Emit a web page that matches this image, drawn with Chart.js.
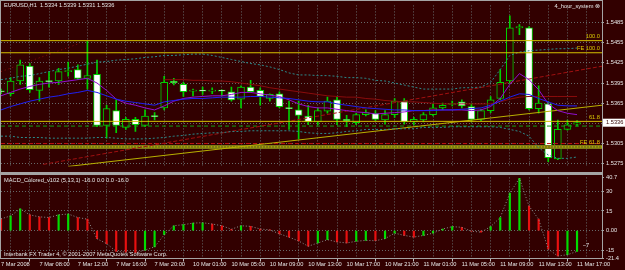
<!DOCTYPE html>
<html>
<head>
<meta charset="utf-8">
<script src="https://cdn.jsdelivr.net/npm/chart.js@4.4.1/dist/chart.umd.min.js"></script>
<style>
  body { margin: 0; background: #320000; width: 625px; height: 270px; overflow: hidden; position: relative; font-family: "Liberation Sans", Arial, sans-serif; }
  canvas { position: absolute; left: 0; }
  #main { top: 0; }
  #macd { top: 172px; }
  .t { position: absolute; color: #e6e6e6; font-size: 5.7px; white-space: pre; line-height: 1; z-index: 5; }
  .ln { position: absolute; background: #a4a4a4; z-index: 4; }
</style>
</head>
<body>
<canvas id="main" width="625" height="172"></canvas>
<canvas id="macd" width="625" height="98"></canvas>

<div class="ln" style="left:0;top:0;width:603px;height:1px"></div>
<div class="ln" style="left:0;top:0;width:1px;height:259px"></div>
<div class="ln" style="left:602px;top:0;width:1px;height:259px"></div>
<div class="ln" style="left:0;top:172px;width:603px;height:3px"></div>
<div class="ln" style="left:0;top:258px;width:603px;height:1px"></div>

<div class="t" style="left:4px;top:3px">EURUSD,H1  1.5334 1.5339 1.5331 1.5336</div>
<div class="t" style="right:25px;top:4px">4_hour_system ⊗</div>
<div class="t" style="left:4px;top:178px">MACD_Colored_v102 (5,13,1) -16.0 0.0 0.0 -16.0</div>
<div class="t" style="left:4px;top:252px">Interbank FX Trader 4, © 2001-2007 MetaQuotes Software Corp.</div>

<script>
// EURUSD H1, 7 Mar 2008 04:00 .. 11 Mar 2008 17:00
const timeLabels = ["7 Mar 2008", "7 Mar 08:00", "7 Mar 12:00", "7 Mar 16:00", "7 Mar 20:00",
  "10 Mar 01:00", "10 Mar 05:00", "10 Mar 09:00", "10 Mar 13:00", "10 Mar 17:00", "10 Mar 21:00",
  "11 Mar 01:00", "11 Mar 05:00", "11 Mar 09:00", "11 Mar 13:00", "11 Mar 17:00"];

const opens = [1.5383, 1.5379, 1.5398, 1.5420, 1.5384, 1.5398, 1.5398, 1.5412, 1.5415, 1.5402,
  1.5408, 1.5332, 1.5354, 1.5329, 1.5341, 1.5332, 1.5346, 1.5358, 1.5398, 1.5393,
  1.5383, 1.5384, 1.5383, 1.5384, 1.5382, 1.5371, 1.5389, 1.5384, 1.5372, 1.5379,
  1.5358, 1.5355, 1.5346, 1.5337, 1.5353, 1.5370, 1.5341, 1.5336, 1.5348, 1.5350,
  1.5340, 1.5348, 1.5368, 1.5337, 1.5340, 1.5348, 1.5358, 1.5363, 1.5367, 1.5360,
  1.5341, 1.5354, 1.5372, 1.5398, 1.5477, 1.5477, 1.5357, 1.5364, 1.5282, 1.5326, 1.5334];
const highs = [1.5386, 1.5403, 1.5429, 1.5424, 1.5403, 1.5412, 1.5417, 1.5426, 1.5422, 1.5457,
  1.5429, 1.5362, 1.5370, 1.5344, 1.5344, 1.5355, 1.5351, 1.5405, 1.5402, 1.5396,
  1.5386, 1.5389, 1.5388, 1.5385, 1.5389, 1.5391, 1.5399, 1.5388, 1.5379, 1.5382,
  1.5368, 1.5368, 1.5362, 1.5358, 1.5374, 1.5375, 1.5347, 1.5350, 1.5355, 1.5354,
  1.5354, 1.5372, 1.5372, 1.5344, 1.5351, 1.5364, 1.5365, 1.5368, 1.5370, 1.5364,
  1.5356, 1.5375, 1.5415, 1.5495, 1.5482, 1.5479, 1.5391, 1.5367, 1.5340, 1.5340, 1.5339];
const lows = [1.5379, 1.5376, 1.5393, 1.5381, 1.5368, 1.5389, 1.5393, 1.5405, 1.5400, 1.5386,
  1.5330, 1.5313, 1.5321, 1.5326, 1.5323, 1.5330, 1.5340, 1.5355, 1.5392, 1.5375,
  1.5376, 1.5378, 1.5379, 1.5376, 1.5368, 1.5358, 1.5381, 1.5362, 1.5368, 1.5358,
  1.5326, 1.5312, 1.5333, 1.5333, 1.5350, 1.5333, 1.5330, 1.5333, 1.5346, 1.5339,
  1.5334, 1.5344, 1.5334, 1.5333, 1.5337, 1.5346, 1.5355, 1.5361, 1.5358, 1.5337,
  1.5339, 1.5351, 1.5370, 1.5395, 1.5467, 1.5355, 1.5350, 1.5278, 1.5281, 1.5325, 1.5331];
const closes = [1.5382, 1.5398, 1.5422, 1.5385, 1.5398, 1.5397, 1.5412, 1.5413, 1.5402, 1.5406,
  1.5332, 1.5357, 1.5332, 1.5341, 1.5333, 1.5346, 1.5345, 1.5396, 1.5395, 1.5382,
  1.5384, 1.5383, 1.5384, 1.5383, 1.5370, 1.5389, 1.5382, 1.5375, 1.5378, 1.5360,
  1.5357, 1.5347, 1.5337, 1.5354, 1.5368, 1.5341, 1.5339, 1.5348, 1.5351, 1.5341,
  1.5348, 1.5368, 1.5337, 1.5341, 1.5348, 1.5358, 1.5362, 1.5364, 1.5361, 1.5341,
  1.5354, 1.5370, 1.5396, 1.5477, 1.5479, 1.5357, 1.5365, 1.5284, 1.5326, 1.5333, 1.5336];

// moving averages
const maFast = [1.5376, 1.5381, 1.5386, 1.5390, 1.5393, 1.5395, 1.5396, 1.5398, 1.5400, 1.5402,
  1.5395, 1.5384, 1.5371, 1.5365, 1.5362, 1.5358, 1.5355, 1.5361, 1.5368, 1.5372,
  1.5374, 1.5375, 1.5376, 1.5376, 1.5378, 1.5381, 1.5381, 1.5379, 1.5377, 1.5375,
  1.5370, 1.5364, 1.5360, 1.5358, 1.5358, 1.5356, 1.5354, 1.5352, 1.5351, 1.5349,
  1.5350, 1.5351, 1.5352, 1.5354, 1.5354, 1.5355, 1.5355, 1.5355, 1.5355, 1.5354,
  1.5355, 1.5360, 1.5372, 1.5393, 1.5409, 1.5400, 1.5385, 1.5364, 1.5354, 1.5350, 1.5348];
const maSlow = [1.5355, 1.5360, 1.5364, 1.5368, 1.5371, 1.5374, 1.5376, 1.5379, 1.5381, 1.5384,
  1.5381, 1.5376, 1.5371, 1.5368, 1.5366, 1.5364, 1.5362, 1.5367, 1.5369, 1.5371,
  1.5372, 1.5372, 1.5373, 1.5374, 1.5374, 1.5374, 1.5375, 1.5375, 1.5374, 1.5373,
  1.5372, 1.5370, 1.5368, 1.5367, 1.5367, 1.5364, 1.5362, 1.5360, 1.5358, 1.5357,
  1.5356, 1.5355, 1.5355, 1.5354, 1.5354, 1.5354, 1.5355, 1.5355, 1.5356, 1.5357,
  1.5358, 1.5362, 1.5368, 1.5374, 1.5379, 1.5378, 1.5372, 1.5367, 1.5362, 1.5361, 1.5361];
const maRed = [null, null, null, null, null, null, null, null, null, null,
  null, null, null, null, null, null, null, 1.5400, 1.5400, 1.5400,
  1.5399, 1.5399, 1.5398, 1.5398, 1.5397, 1.5395, 1.5393, 1.5391, 1.5388, 1.5386,
  1.5384, 1.5382, 1.5380, 1.5378, 1.5376, 1.5375, 1.5374, 1.5374, 1.5372, 1.5371,
  1.5369, 1.5368, 1.5367, 1.5367, 1.5366, 1.5365, 1.5364, 1.5364, 1.5364, 1.5364,
  1.5364, 1.5364, 1.5367, 1.5371, 1.5374, 1.5375, 1.5375, 1.5375, 1.5375, 1.5375, 1.5375];
const bandUpper = [1.5400, 1.5402, 1.5405, 1.5406, 1.5409, 1.5412, 1.5415, 1.5417, 1.5420, 1.5423,
  1.5426, 1.5427, 1.5429, 1.5430, 1.5431, 1.5433, 1.5434, 1.5436, 1.5436, 1.5437,
  1.5438, 1.5438, 1.5436, 1.5433, 1.5430, 1.5427, 1.5424, 1.5422, 1.5419, 1.5415,
  1.5410, 1.5407, 1.5407, 1.5406, 1.5406, 1.5405, 1.5403, 1.5403, 1.5402, 1.5399,
  1.5398, 1.5395, 1.5392, 1.5389, 1.5386, 1.5386, 1.5386, 1.5386, 1.5388, 1.5388,
  1.5389, 1.5396, 1.5415, 1.5436, 1.5441, 1.5443, 1.5444, 1.5445, 1.5446, 1.5446, 1.5447];
const bandLower = [1.5316, 1.5316, 1.5314, 1.5314, 1.5314, 1.5313, 1.5313, 1.5313, 1.5313, 1.5313,
  1.5314, 1.5314, 1.5313, 1.5312, 1.5312, 1.5312, 1.5313, 1.5314, 1.5316, 1.5317,
  1.5319, 1.5320, 1.5321, 1.5321, 1.5323, 1.5323, 1.5324, 1.5324, 1.5324, 1.5324,
  1.5324, 1.5323, 1.5321, 1.5320, 1.5320, 1.5321, 1.5323, 1.5324, 1.5326, 1.5326,
  1.5326, 1.5327, 1.5327, 1.5327, 1.5329, 1.5329, 1.5329, 1.5330, 1.5330, 1.5330,
  1.5330, 1.5330, 1.5329, 1.5326, 1.5323, 1.5316, 1.5299, 1.5288, 1.5283, 1.5283, 1.5285];

// drawn objects
const levelPrices = [1.5458, 1.5440, 1.5338];
const levelLabels = ["100.0", "FE 100.0", "61.8"];
const bandPrice = 1.5300;
const bandLabel = "FE 61.8";
const redDashPrice = 1.5305;
const greenDashPrice = 1.5331;
const redTrendX = [4.4, 62.6], redTrendY = [1.5274, 1.5420];
const yellowTrendX = [7, 62.6], yellowTrendY = [1.5271, 1.5362];
const earlyRedX = [0, 8], earlyRedY = [1.5412, 1.5453];
const lastPrice = 1.5336;
const priceTicks = [1.5275, 1.5305, 1.5335, 1.5365, 1.5395, 1.5425, 1.5455, 1.5485];

// MACD (5,13,1)
const macdHist = [9, 11.2, 16.7, 12, 10.5, 10, 12, 12.7, 10, 8.7,
  -6.3, -10, -16, -16.5, -17, -15, -12.5, -3.2, 3.7, 4.5,
  5.7, 6.0, 5, 3.7, 1.0, 3.7, 3.2, 1.2, 0.5, -2.5,
  -5, -8, -12, -9.5, -7, -8.7, -9.5, -8.2, -7.5, -7.8,
  -6.2, -2, -3.7, -5, -3.7, -2, 1.2, 3, 2.5, -0.5,
  -1.2, 3, 10, 28.7, 40.0, 18.7, 8.7, -14.2, -19.5, -18.5, -16];
const macdTicks = [-21.4, -15, 0, 15, 30, 40.7];
const macdTickLabels = ["-21.4", "-15", "0.00", "15", "30", "40.7"];
const macdNote = "\u22127";

const BG = "#320000";
const GRID = "rgba(120,140,140,0.75)";
const TXT = "#e6e6e6";
const CANDLE = "#00d000";
const FONT = { size: 5.7, family: "Liberation Sans" };
const xMax = 62.6;
const gridX = [];
for (let i = 0; i <= 60; i += 2) gridX.push(i);

const pts = arr => arr.map((v, i) => ({ x: i, y: v }));
const seg = (xs, ys) => xs.map((x, k) => ({ x: x, y: ys[k] }));
const flat = p => [{ x: 0, y: p }, { x: xMax, y: p }];
const lineDs = (data, color, width, dash, order) => ({
  type: "line", data: data, borderColor: color, borderWidth: width, borderDash: dash || [],
  pointRadius: 0, tension: 0, spanGaps: false, order: order === undefined ? 2 : order
});

Chart.defaults.font.family = "Liberation Sans";

const labelsPlugin = {
  id: "levelLabels",
  afterDraw(chart) {
    const { ctx, chartArea, scales } = chart;
    const y = scales.y;
    ctx.save();
    ctx.font = "5.7px 'Liberation Sans'";
    ctx.textAlign = "right";
    ctx.textBaseline = "bottom";
    ctx.fillStyle = "#d8c800";
    levelLabels.forEach((t, k) => ctx.fillText(t, chartArea.right - 2, y.getPixelForValue(levelPrices[k]) - 1));
    ctx.fillText(bandLabel, chartArea.right - 2, y.getPixelForValue(bandPrice) - 2);
    const py = y.getPixelForValue(lastPrice);
    ctx.fillStyle = "#ffffff";
    ctx.fillRect(chartArea.right + 1, py - 4, 22, 8);
    ctx.fillStyle = BG;
    ctx.textAlign = "left";
    ctx.textBaseline = "middle";
    ctx.fillText(lastPrice.toFixed(4), chartArea.right + 4, py);
    ctx.restore();
  }
};

new Chart(document.getElementById("main"), {
  type: "bar",
  data: {
    datasets: [
      {
        type: "bar", data: lows.map((l, i) => ({ x: i, y: [l, highs[i]] })),
        backgroundColor: CANDLE, barThickness: 1, grouped: false, order: 11
      },
      {
        type: "bar", data: opens.map((o, i) => ({ x: i, y: [o, closes[i]] })),
        backgroundColor: ctx => closes[ctx.dataIndex] >= opens[ctx.dataIndex] ? BG : "#ffffff",
        borderColor: CANDLE, borderWidth: 1, borderSkipped: false, barThickness: 7,
        minBarLength: 1, grouped: false, order: 10
      },
      lineDs(flat(bandPrice), "#7d7a14", 4, [], 5),
      lineDs(flat(bandPrice), "#c8c000", 1, [1, 2], 4),
      lineDs(flat(redDashPrice), "#c01010", 1, [4, 3], 4),
      lineDs(flat(greenDashPrice), "#10a010", 1, [4, 3], 4),
      lineDs(pts(bandUpper), "#2a8a8a", 1, [2, 2], 3),
      lineDs(pts(bandLower), "#2a8a8a", 1, [2, 2], 3),
      lineDs(pts(maRed), "#8a0c0c", 1, [], 3),
      lineDs(seg(earlyRedX, earlyRedY), "#8a0c0c", 1, [1, 3], 3),
      lineDs(seg(redTrendX, redTrendY), "#a01010", 1, [4, 2], 3),
      lineDs(seg(yellowTrendX, yellowTrendY), "#b8b000", 1, [], 3),
      lineDs(pts(maSlow), "#2020f0", 1, [], 1),
      lineDs(pts(maFast), "#9010d0", 1, [], 1),
      ...levelPrices.map(p => lineDs(flat(p), "#d4c000", 1, [], 0))
    ]
  },
  options: {
    responsive: false, animation: false, devicePixelRatio: 1, events: [],
    layout: { padding: { left: 1, top: 2, right: 0, bottom: 0 } },
    plugins: { legend: { display: false }, tooltip: { enabled: false } },
    scales: {
      x: {
        type: "linear", min: 0, max: xMax, offset: false,
        afterBuildTicks: s => { s.ticks = gridX.map(v => ({ value: v })); },
        afterFit: s => { s.height = 0; },
        ticks: { display: false },
        grid: { color: GRID, drawTicks: false },
        border: { display: false, dash: [1, 2] }
      },
      y: {
        position: "right", min: 1.527077, max: 1.551037,
        afterBuildTicks: s => { s.ticks = priceTicks.map(v => ({ value: v })); },
        afterFit: s => { s.width = 23; },
        ticks: {
          color: TXT, font: FONT, padding: 2,
          callback: v => Math.abs(v - 1.5335) < 1e-6 ? "" : v.toFixed(4)
        },
        grid: { color: GRID, drawTicks: true, tickLength: 2, tickColor: "#a4a4a4" },
        border: { display: false, dash: [1, 2] }
      }
    }
  },
  plugins: [labelsPlugin]
});

const notePlugin = {
  id: "macdNote",
  afterDraw(chart) {
    const { ctx, scales } = chart;
    ctx.save();
    ctx.font = "5.7px 'Liberation Sans'";
    ctx.fillStyle = TXT;
    ctx.textBaseline = "middle";
    ctx.fillText(macdNote, scales.x.getPixelForValue(60.6), scales.y.getPixelForValue(-11.3));
    ctx.restore();
  }
};

new Chart(document.getElementById("macd"), {
  type: "bar",
  data: {
    datasets: [
      {
        type: "bar", data: pts(macdHist), barThickness: 1.5, grouped: false, order: 2,
        backgroundColor: ctx => {
          const i = ctx.dataIndex;
          const prev = i > 0 ? macdHist[i - 1] : Infinity;
          return macdHist[i] >= prev ? "#00dd00" : "#e81010";
        }
      },
      lineDs(pts(macdHist), "#8c8c8c", 1, [1, 2], 1)
    ]
  },
  options: {
    responsive: false, animation: false, devicePixelRatio: 1, events: [],
    layout: { padding: { left: 1, top: 4, right: 0, bottom: 0 } },
    plugins: { legend: { display: false }, tooltip: { enabled: false } },
    scales: {
      x: {
        type: "linear", min: 0, max: xMax, offset: false,
        afterBuildTicks: s => { s.ticks = gridX.map(v => ({ value: v })); },
        afterFit: s => { s.height = 11.5; },
        ticks: {
          color: TXT, font: FONT, padding: 0, align: "start", autoSkip: false,
          maxRotation: 0, minRotation: 0,
          callback: v => v % 4 === 0 ? timeLabels[v / 4] : ""
        },
        grid: {
          color: GRID, drawTicks: true, tickLength: 3,
          tickColor: ctx => ctx.tick && ctx.tick.value % 4 === 0 ? "#c0c0c0" : "rgba(0,0,0,0)"
        },
        border: { display: false, dash: [1, 2] }
      },
      y: {
        position: "right", min: -21.4, max: 40.7,
        afterBuildTicks: s => { s.ticks = macdTicks.map(v => ({ value: v })); },
        afterFit: s => { s.width = 23; },
        ticks: { color: TXT, font: FONT, padding: 2, callback: (v, i) => macdTickLabels[i] },
        grid: {
          color: ctx => ctx.tick && (ctx.tick.value === 40.7 || ctx.tick.value === -21.4) ? "rgba(0,0,0,0)" : GRID,
          drawTicks: true, tickLength: 2, tickColor: "#a4a4a4"
        },
        border: { display: false, dash: [1, 2] }
      }
    }
  },
  plugins: [notePlugin]
});
</script>
</body>
</html>
